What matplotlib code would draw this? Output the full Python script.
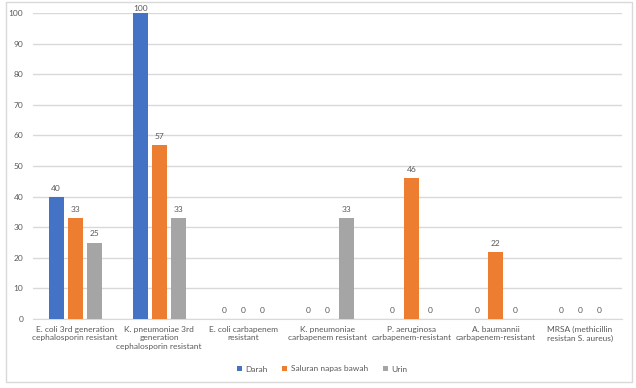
import matplotlib.pyplot as plt
import numpy as np
from matplotlib.patches import Rectangle

categories = [
    "E. coli 3rd generation\ncephalosporin resistant",
    "K. pneumoniae 3rd\ngeneration\ncephalosporin resistant",
    "E. coli carbapenem\nresistant",
    "K. pneumoniae\ncarbapenem resistant",
    "P. aeruginosa\ncarbapenem-resistant",
    "A. baumannii\ncarbapenem-resistant",
    "MRSA (methicillin\nresistan S. aureus)",
]
series_names = ["Darah", "Saluran napas bawah", "Urin"]
darah = [40, 100, 0, 0, 0, 0, 0]
saluran = [33, 57, 0, 0, 46, 22, 0]
urin = [25, 33, 0, 33, 0, 0, 0]
colors = ["#4472C4", "#ED7D31", "#A5A5A5"]

plt.rcParams['font.family'] = ['Lato', 'DejaVu Sans']

W, H = 636, 388
fig = plt.figure(figsize=(W / 100, H / 100), dpi=100)
fig.patches.append(Rectangle((6 / W, 1 - 382 / H), 626 / W, 380 / H,
                             transform=fig.transFigure, fill=False,
                             edgecolor="#D9D9D9", linewidth=1))
ax = fig.add_axes([33 / W, 1 - 319 / H, 589 / W, 306 / H])

x = np.arange(len(categories))
width = 0.178
step = 0.226
for i, (vals, name) in enumerate(zip([darah, saluran, urin], series_names)):
    pos = x + (i - 1) * step
    ax.bar(pos, vals, width, color=colors[i], label=name, zorder=3)
    for p, v in zip(pos, vals):
        ax.text(p, min(v + 2.8, 101.5), str(v), ha="center", va="center",
                fontsize=6, color="#595959", zorder=4)

ax.set_xlim(-0.5, len(categories) - 0.5)
ax.set_ylim(0, 100)
ax.set_yticks(range(0, 101, 10))
ax.grid(axis="y", color="#D9D9D9", linewidth=1, zorder=0)
for s in ["top", "right", "left"]:
    ax.spines[s].set_visible(False)
ax.spines["bottom"].set_color("#D9D9D9")
ax.tick_params(axis="both", length=0, labelsize=6, colors="#595959")
ax.tick_params(axis="y", pad=7)
ax.tick_params(axis="x", pad=5)
ax.set_xticks(x)
ax.set_xticklabels(categories, linespacing=1.25)

ax.legend(loc="center", bbox_to_anchor=(322 / W, 1 - 369 / H),
          bbox_transform=fig.transFigure, ncol=3, frameon=False,
          fontsize=6, labelcolor="#595959", handlelength=0.6,
          handleheight=0.6, handletextpad=0.4, columnspacing=1.8)

fig.savefig("out.png", dpi=100)
